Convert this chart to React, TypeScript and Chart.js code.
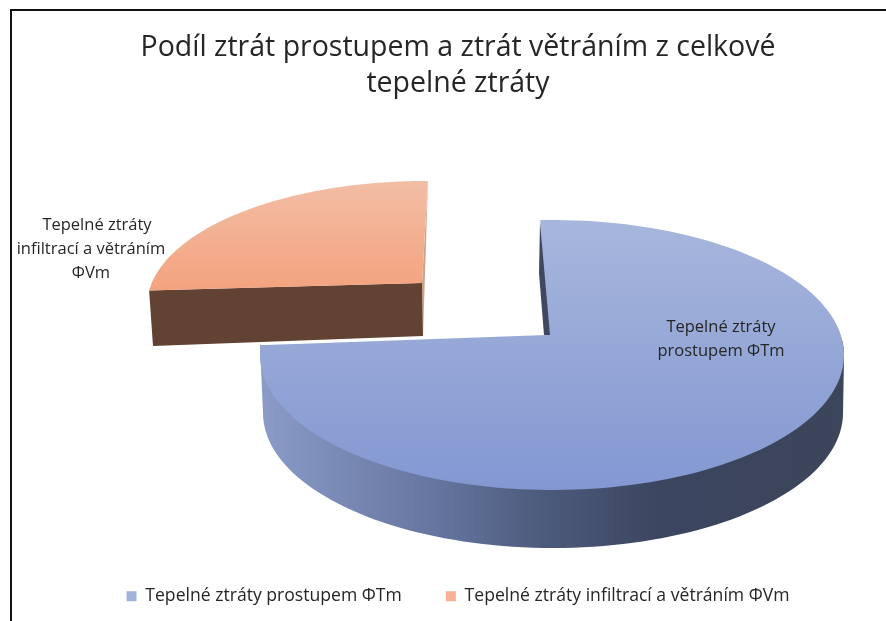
import React, { useEffect, useRef } from "react";
import { Chart, registerables } from "chart.js";

Chart.register(...registerables);

const categories = ["Tepelné ztráty prostupem ΦTm", "Tepelné ztráty infiltrací a větráním ΦVm"];
const shares = [76.8, 23.2];
const titleLines = ["Podíl ztrát prostupem a ztrát větráním z celkové", "tepelné ztráty"];
const sliceLabels = [
  ["Tepelné ztráty", "prostupem ΦTm"],
  ["Tepelné ztráty", "infiltrací a větráním", "ΦVm"],
];
const legendColors = ["#a3b2db", "#f6b093"];

const FONT = '"Open Sans", "Noto Sans", sans-serif';
const TXT = "#262626";
const rad = (d: number) => (d * Math.PI) / 180;

// Simulated 3-D view of each slice
const views = [
  { cx: 552, cy: 355, rx: 292, ry: 135, skew: 0, apex: [546, 335] },
  { cx: 425, cy: 306, rx: 278, ry: 125, skew: 2.9, apex: [422, 283] },
];

function outlinePoints(arc: any, v: any, steps = 160) {
  const pts: number[][] = [];
  for (let i = 0; i <= steps; i++) {
    const a = arc.startAngle + ((arc.endAngle - arc.startAngle) * i) / steps;
    const t = a + Math.PI / 2 + rad(v.skew);
    pts.push([v.cx + v.rx * Math.sin(t), v.cy - v.ry * Math.cos(t)]);
  }
  return pts;
}

function poly(ctx: CanvasRenderingContext2D, pts: number[][], fill: any) {
  ctx.beginPath();
  pts.forEach((p, i) => (i ? ctx.lineTo(p[0], p[1]) : ctx.moveTo(p[0], p[1])));
  ctx.closePath();
  ctx.fillStyle = fill;
  ctx.fill();
}

const pie3d = {
  id: "pie3d",
  afterLayout(chart: any) {
    // the legend sits low although its item gap is wide
    const lg = chart.legend;
    lg.top = 552 - 44;
    lg.bottom = 621;
    lg.top = 596 - 8.5 - 44;
  },
  beforeDatasetsDraw(chart: any) {
    const ctx: CanvasRenderingContext2D = chart.ctx;
    const arcs = chart.getDatasetMeta(0).data;
    ctx.save();

    // frame of the pasted picture
    ctx.fillStyle = "#111111";
    ctx.fillRect(10, 9, 876, 2);
    ctx.fillRect(10, 9, 2, 612);

    // big slice: outer wall
    const blue = outlinePoints(arcs[0], views[0]);
    const lower: number[][] = [];
    for (let d = 270; d >= 90; d -= 2) {
      lower.push([553 + 290 * Math.sin(rad(d)), 413 - 135 * Math.cos(rad(d))]);
    }
    const wallGrad = ctx.createLinearGradient(262, 0, 844, 0);
    wallGrad.addColorStop(0, "#8a9bc8");
    wallGrad.addColorStop(0.306, "#64749e");
    wallGrad.addColorStop(0.478, "#4d5b7c");
    wallGrad.addColorStop(0.684, "#3b4560");
    wallGrad.addColorStop(1, "#3c4559");
    const rim = blue.filter((p) => p[1] > 340);
    poly(ctx, [[260, 345], ...lower, [844, 358], ...rim.filter((p) => p[0] > 550).reverse()], wallGrad);

    // big slice: top face
    const faceGrad = ctx.createLinearGradient(0, 221, 0, 490);
    faceGrad.addColorStop(0, "#a7b6dc");
    faceGrad.addColorStop(1, "#8398d2");
    poly(ctx, [views[0].apex, ...blue], faceGrad);
    poly(ctx, [[540, 222], [539, 273], [544, 335], [550, 335]], "#3f4860");

    // small slice: walls and top face
    const orange = outlinePoints(arcs[1], views[1]);
    poly(ctx, [[428, 181], [422, 283], [423, 336]], "#c9a38e");
    poly(ctx, [orange[0], [153, 346], [423, 336], views[1].apex], "#624232");
    const oGrad = ctx.createLinearGradient(0, 181, 0, 292);
    oGrad.addColorStop(0, "#f2bea5");
    oGrad.addColorStop(1, "#f4a27e");
    poly(ctx, [views[1].apex, ...orange], oGrad);

    // labels on the slices
    ctx.fillStyle = TXT;
    ctx.font = `16.5px ${FONT}`;
    ctx.textAlign = "center";
    ctx.textBaseline = "middle";
    sliceLabels[0].forEach((s, i) => ctx.fillText(s, 721, 327 + i * 24));
    sliceLabels[1].forEach((s, i) => ctx.fillText(s, i === 0 ? 97 : 91, 225 + i * 24));
    ctx.restore();
    return false;
  },
};

export default function App() {
  const ref = useRef<HTMLCanvasElement>(null);
  useEffect(() => {
    const chart = new Chart(ref.current!, {
      type: "pie",
      data: {
        labels: categories,
        datasets: [{ data: shares, backgroundColor: legendColors, borderWidth: 0 }],
      },
      plugins: [pie3d],
      options: {
        responsive: false,
        animation: false,
        rotation: -2.3,
        layout: { padding: { left: 30, right: 0, top: 0, bottom: 0 } },
        plugins: {
          tooltip: { enabled: false },
          title: {
            display: true,
            text: titleLines,
            color: TXT,
            font: { family: FONT, size: 28.5, weight: "normal", lineHeight: 1.25 },
            padding: { top: 30, bottom: 10 },
          },
          legend: {
            position: "bottom",
            labels: {
              boxWidth: 10,
              boxHeight: 10,
              padding: 44,
              color: TXT,
              font: { family: FONT, size: 17.6 },
            },
          },
        },
      },
    } as any);
    return () => chart.destroy();
  }, []);
  return (
    <div style={{ position: "absolute", left: 0, top: 0, width: 886, height: 621, background: "#fff" }}>
      <canvas ref={ref} width={886} height={621} style={{ display: "block", filter: "blur(0.4px)" }} />
    </div>
  );
}
